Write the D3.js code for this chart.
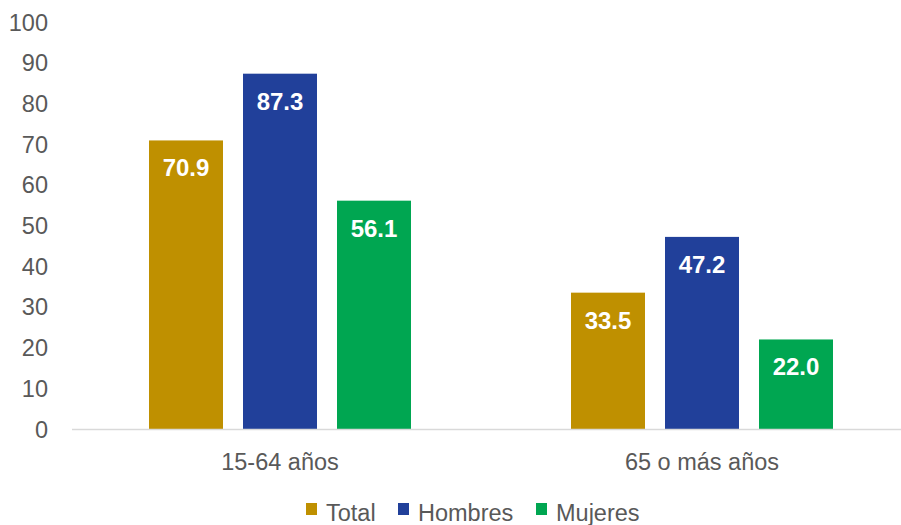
<!DOCTYPE html>
<html>
<head>
<meta charset="utf-8">
<script src="https://cdn.jsdelivr.net/npm/d3@7"></script>
<style>
  html, body { margin: 0; padding: 0; background: #fff; }
  svg { display: block; font-family: "Liberation Sans", Arial, sans-serif; }
</style>
</head>
<body>
<svg id="chart" width="901" height="525"></svg>
<script>
// Tasa de participación por grupo de edad y sexo
const categories = ["15-64 años", "65 o más años"];
const series = ["Total", "Hombres", "Mujeres"];
const totalValues = [70.9, 33.5];
const hombresValues = [87.3, 47.2];
const mujeresValues = [56.1, 22.0];
const yTicks = [0, 10, 20, 30, 40, 50, 60, 70, 80, 90, 100];
const colors = ["#BF9000", "#21409A", "#00A651"];

const valuesBySeries = [totalValues, hombresValues, mujeresValues];

const svg = d3.select("#chart");
const W = 901;
const textColor = "#595959";
const fontSize = 23.5;

const y = d3.scaleLinear().domain([0, 100]).range([429, 22]);
const x0 = d3.scaleBand().domain(categories).range([69, 913]);
const x1 = d3.scaleBand().domain(series)
  .range([80, 342]).paddingInner(20 / 94).paddingOuter(0);

// Y axis tick labels
svg.append("g")
  .selectAll("text")
  .data(yTicks)
  .join("text")
  .attr("x", 48)
  .attr("y", d => y(d) + 8.5)
  .attr("text-anchor", "end")
  .attr("font-size", fontSize)
  .attr("fill", textColor)
  .text(d => d);

// Bars
const groups = svg.append("g")
  .selectAll("g")
  .data(categories)
  .join("g")
  .attr("transform", c => `translate(${x0(c)},0)`);

const rows = (c, i) => series.map((s, j) => ({ s, j, v: valuesBySeries[j][i] }));

groups.selectAll("rect")
  .data(rows)
  .join("rect")
  .attr("x", d => x1(d.s))
  .attr("width", x1.bandwidth())
  .attr("y", d => y(d.v))
  .attr("height", d => y(0) - y(d.v))
  .attr("fill", d => colors[d.j]);

// Value labels
groups.selectAll("text")
  .data(rows)
  .join("text")
  .attr("x", d => x1(d.s) + x1.bandwidth() / 2)
  .attr("y", d => y(d.v) + 36)
  .attr("text-anchor", "middle")
  .attr("font-size", 24)
  .attr("font-weight", "bold")
  .attr("fill", "#fff")
  .text(d => d.v.toFixed(1));

// Baseline
svg.append("line")
  .attr("x1", 72).attr("x2", W)
  .attr("y1", y(0) + 0.5).attr("y2", y(0) + 0.5)
  .attr("stroke", "#D9D9D9")
  .attr("stroke-width", 1.5);

// Category labels
svg.append("g")
  .selectAll("text")
  .data(categories)
  .join("text")
  .attr("x", c => x0(c) + x0.bandwidth() / 2)
  .attr("y", 470)
  .attr("text-anchor", "middle")
  .attr("font-size", fontSize)
  .attr("fill", textColor)
  .text(c => c);

// Legend
const legendX = [306, 398, 536];
const legend = svg.append("g")
  .selectAll("g")
  .data(series)
  .join("g")
  .attr("transform", (s, i) => `translate(${legendX[i]},0)`);

legend.append("rect")
  .attr("x", 0).attr("y", 503)
  .attr("width", 11).attr("height", 12)
  .attr("fill", (s, i) => colors[i]);

legend.append("text")
  .attr("x", 20)
  .attr("y", 521)
  .attr("font-size", fontSize)
  .attr("fill", textColor)
  .text(s => s);
</script>
</body>
</html>
